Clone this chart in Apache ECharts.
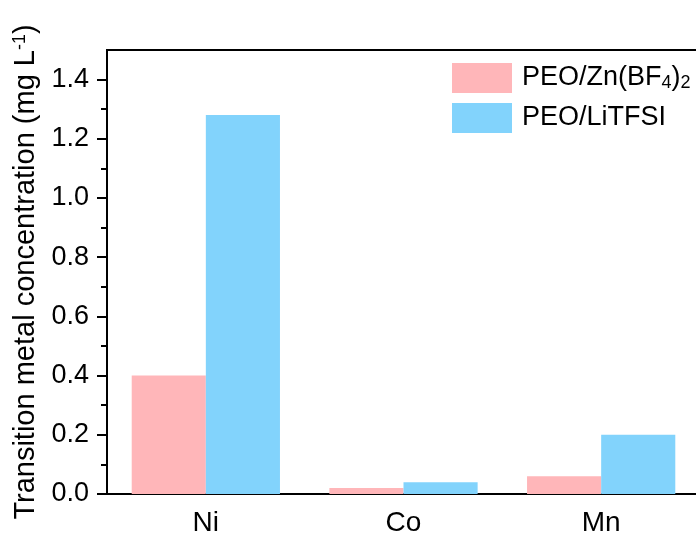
<!DOCTYPE html>
<html>
<head>
<meta charset="utf-8">
<script src="https://cdn.jsdelivr.net/npm/echarts@6/dist/echarts.min.js"></script>
<style>html,body{margin:0;padding:0;background:#fff;}#chart{width:696px;height:540px;}</style>
</head>
<body>
<div id="chart"></div>
<script>
const categories = ['Ni', 'Co', 'Mn'];
const seriesNames = ['PEO/Zn(BF4)2', 'PEO/LiTFSI'];
const znValues = [0.40, 0.02, 0.06];
const litfsiValues = [1.28, 0.04, 0.20];
const yMajorTicks = [0, 0.2, 0.4, 0.6, 0.8, 1.0, 1.2, 1.4];
const yMinorTicks = [0.1, 0.3, 0.5, 0.7, 0.9, 1.1, 1.3];
const yMin = 0, yMax = 1.5;

const FONT = '"Liberation Sans", Arial, sans-serif';
const chart = echarts.init(document.getElementById('chart'), null, {renderer: 'canvas'});
const legendRich = {
  f: {fontSize: 27, fontFamily: FONT, color: '#000', padding: [0, 0, 0, 5]},
  a: {fontSize: 27, fontFamily: FONT, color: '#000'},
  b: {fontSize: 18, fontFamily: FONT, color: '#000', verticalAlign: 'bottom', padding: [11, 0, 0, 0]}
};
const option = {
  backgroundColor: '#fff',
  animation: false,
  grid: {left: 107, top: 50, width: 593, height: 444, show: true, borderColor: '#000', borderWidth: 2,
    backgroundColor: '#fff', containLabel: false, outerBoundsMode: 'none'},
  legend: {
    orient: 'vertical', left: 452, top: 63, itemWidth: 60, itemHeight: 30, itemGap: 10, padding: 0,
    icon: 'rect', data: seriesNames,
    formatter: function (n) {
      if (n === seriesNames[0]) return '{f|PEO/Zn(BF}{b|4}{a|)}{b|2}';
      return '{f|' + n + '}';
    },
    textStyle: {fontSize: 27, fontFamily: FONT, color: '#000', rich: legendRich}
  },
  xAxis: {
    type: 'category', data: categories,
    axisLine: {lineStyle: {color: '#000', width: 2}},
    axisTick: {alignWithLabel: true, length: 9, lineStyle: {color: '#000', width: 2}},
    axisLabel: {fontSize: 28, fontFamily: FONT, color: '#000', margin: 15},
    splitLine: {show: false}
  },
  yAxis: [{
    type: 'value', min: yMin, max: yMax, interval: 0.1, position: 'left',
    name: '{a|Transition metal concentration (mg L}{s|-1}{a|)}',
    nameLocation: 'middle', nameRotate: 90, nameGap: 60,
    nameTextStyle: {fontSize: 29, fontFamily: FONT, color: '#000', rich: {
      a: {fontSize: 29, fontFamily: FONT, color: '#000'},
      s: {fontSize: 18, fontFamily: FONT, color: '#000', verticalAlign: 'top', padding: [0, 0, 12, 0]}
    }},
    axisLine: {show: true, lineStyle: {color: '#000', width: 2}},
    axisTick: {show: true, length: 10, customValues: yMajorTicks, lineStyle: {color: '#000', width: 2}},
    axisLabel: {fontSize: 27, fontFamily: FONT, color: '#000', margin: 18, customValues: yMajorTicks,
      formatter: function (v) { return v.toFixed(1); }},
    splitLine: {show: false}
  }, {
    type: 'value', min: yMin, max: yMax, interval: 0.1, position: 'left', offset: 0,
    axisLine: {show: false},
    axisTick: {show: true, length: 6, customValues: yMinorTicks, lineStyle: {color: '#000', width: 2}},
    axisLabel: {show: false},
    splitLine: {show: false}
  }],
  series: [{
    name: seriesNames[0], type: 'bar', data: znValues, barGap: '0%', barCategoryGap: '25%',
    itemStyle: {color: '#FFB6B9'}
  }, {
    name: seriesNames[1], type: 'bar', data: litfsiValues, barGap: '0%', barCategoryGap: '25%',
    itemStyle: {color: '#82D3FC'}
  }]
};
chart.setOption(option);
</script>
</body>
</html>
